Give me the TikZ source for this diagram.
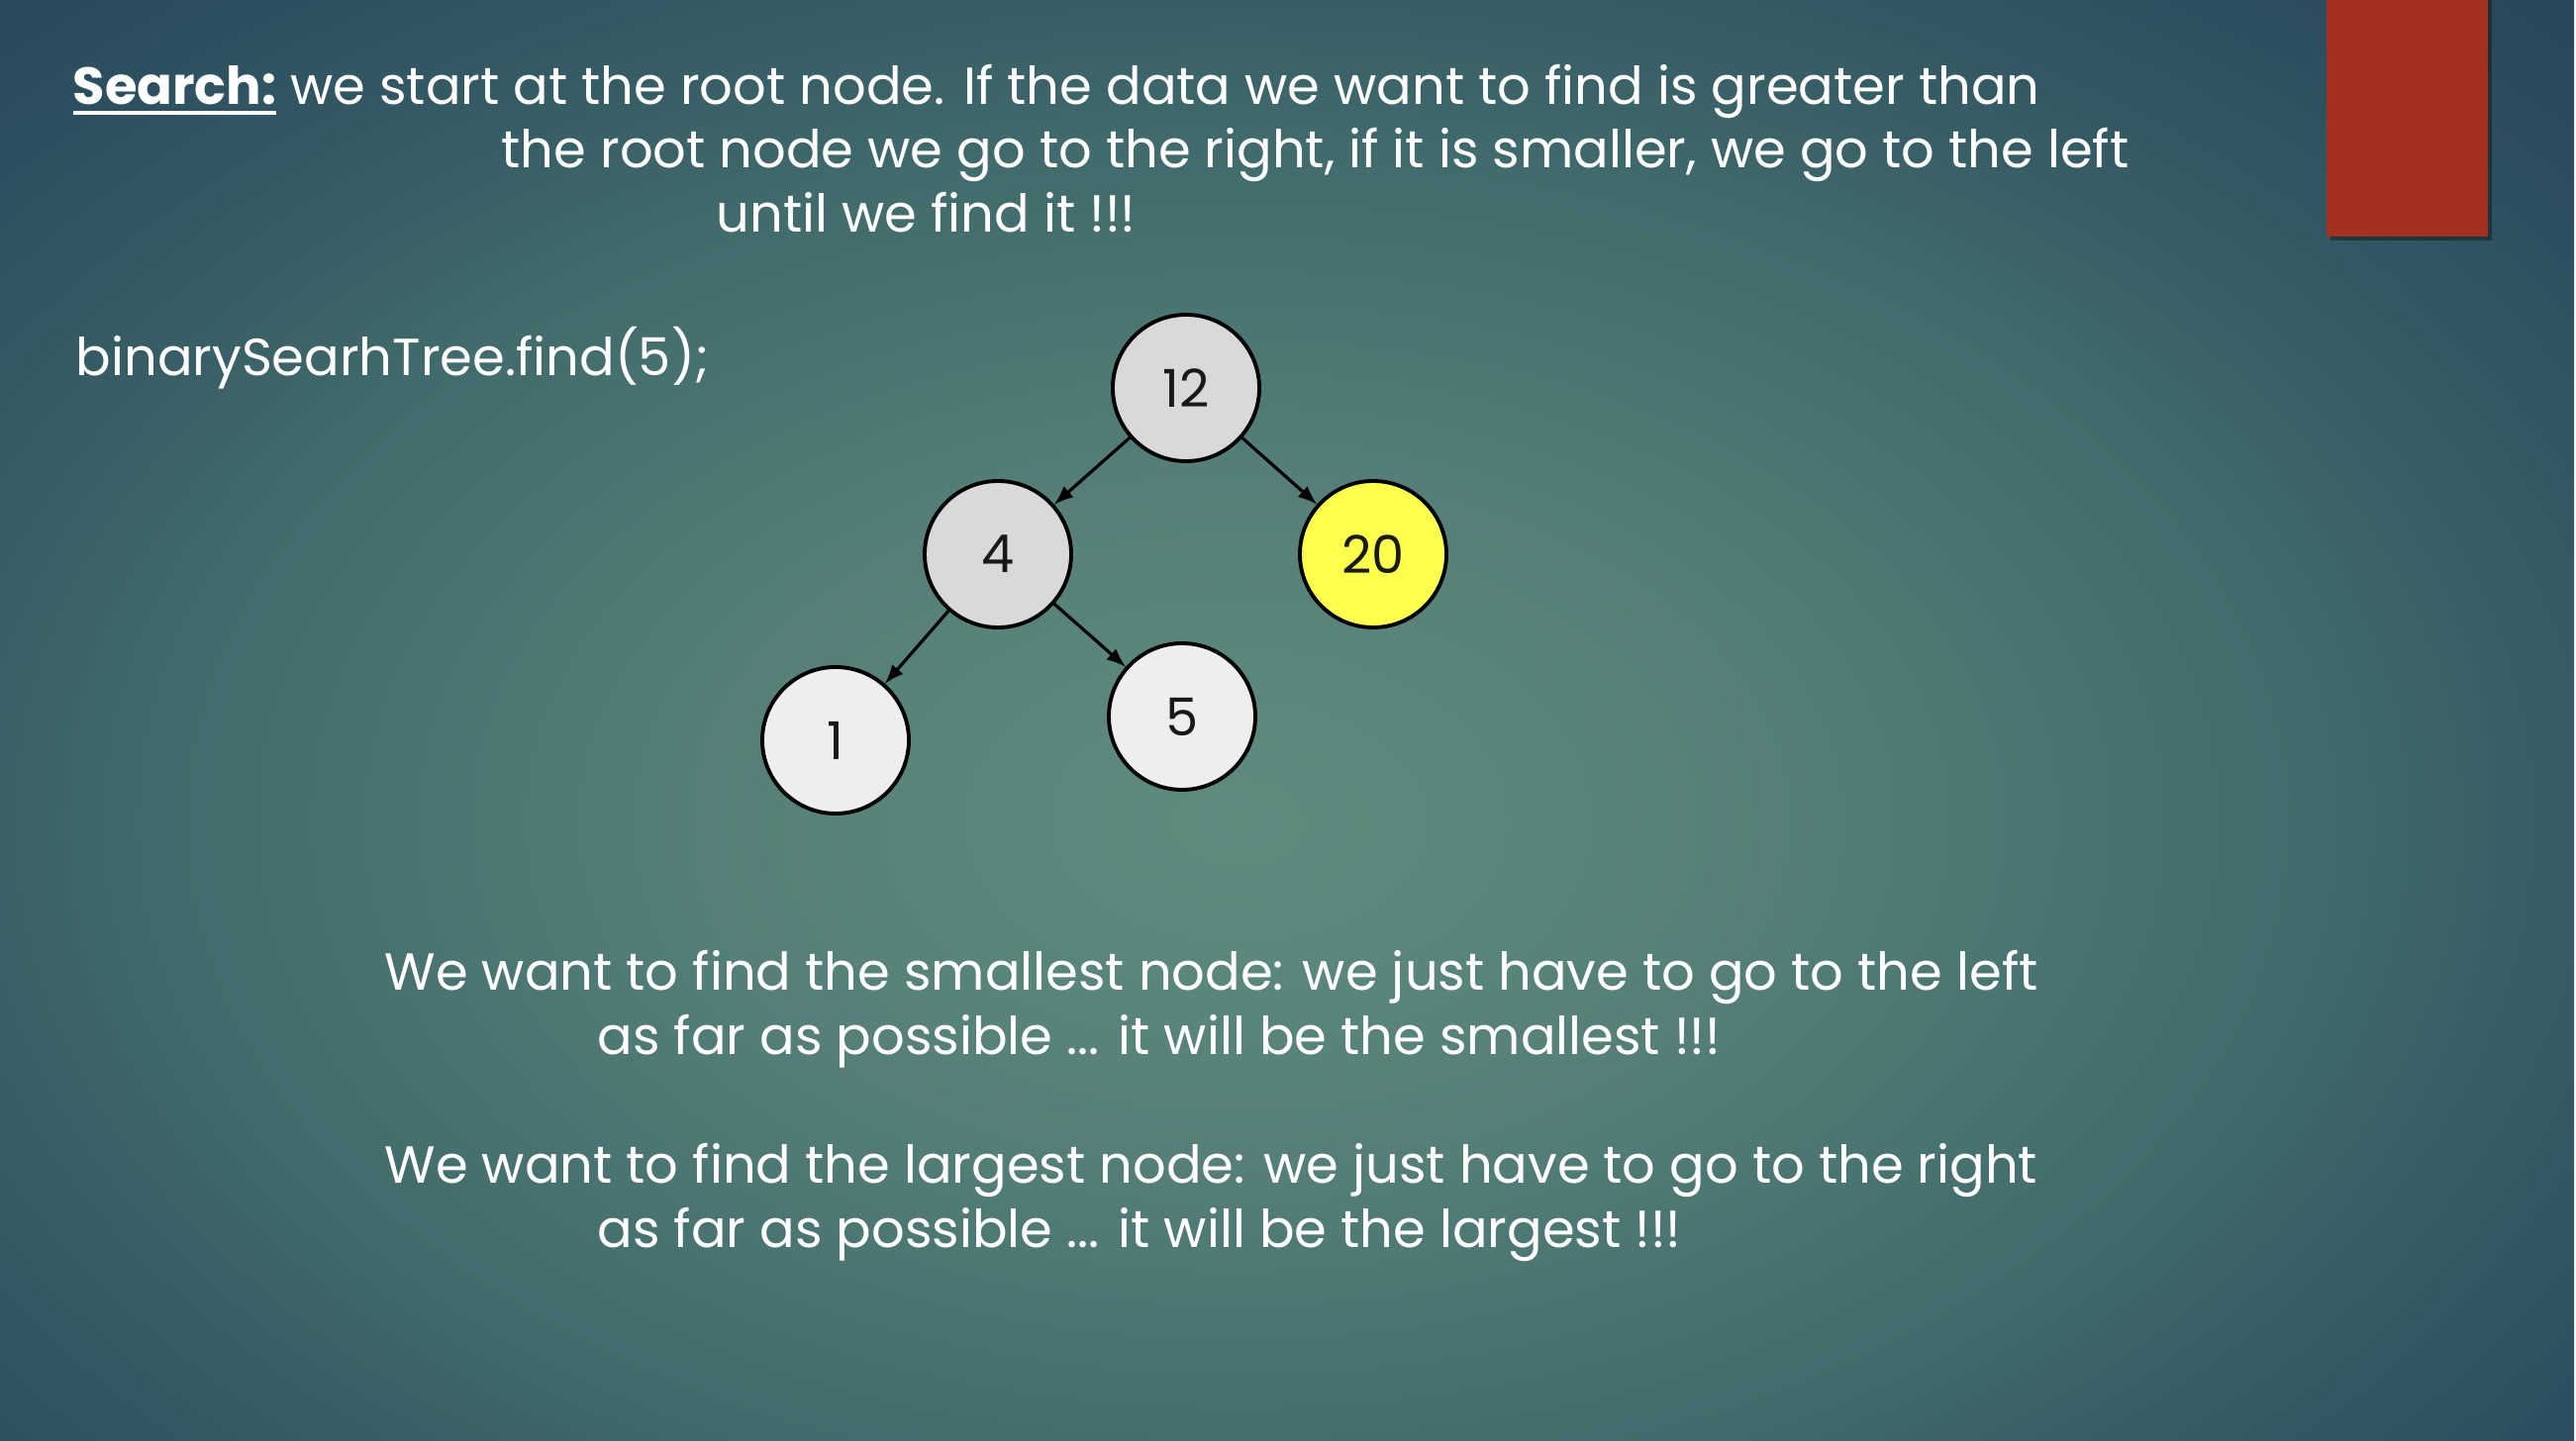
\documentclass[tikz,border=0pt]{standalone}
\usepackage{fontspec}
\setmainfont{Poppins}
\usepackage{tikz}
\usetikzlibrary{arrows}
\usetikzlibrary{positioning}
\usetikzlibrary{calc}

\definecolor{bgcentre}{HTML}{5F8C7F}
\definecolor{bgmid}{HTML}{557F78}
\definecolor{bgside}{HTML}{416B6C}
\definecolor{bgouter}{HTML}{365C64}
\definecolor{bgdark}{HTML}{2D5060}
\definecolor{bgedge}{HTML}{27465A}
\definecolor{barred}{HTML}{A5301F}
\definecolor{innergray}{HTML}{D9D9D9}
\definecolor{leafgray}{HTML}{EEEEEE}
\definecolor{hityellow}{HTML}{FFFF4D}

\pgfdeclareradialshading{slidebg}{\pgfpoint{0bp}{0bp}}{color(0bp)=(bgcentre); color(10bp)=(bgmid); color(20bp)=(bgside); color(25bp)=(bgouter); color(30bp)=(bgdark); color(35bp)=(bgedge); color(50bp)=(bgedge)}

\newcommand{\slideul}[1]{\setbox0\hbox{#1}\rlap{\rule[-2.8pt]{\wd0}{1.1pt}}\box0\relax}

\begin{document}
\begin{tikzpicture}[
        treenode/.style={circle, draw=black, line width=1.1pt, minimum size=1.48cm, inner sep=0pt, text=black!90, font=\fontsize{15}{18}\selectfont},
        slidetext/.style={anchor=base west, inner sep=0pt, text=white, font=\fontsize{15}{18}\selectfont},
        >=latex
    ]
        % slide background
        \useasboundingbox (0,0) rectangle (26.02,-14.56);
        \begin{scope}
            \clip (0,0) rectangle (26.02,-14.56);
            \shade[shading=slidebg] (-1,0.2) rectangle (26,-16.8);
        \end{scope}
        \fill[black, opacity=0.35] (23.54,0) rectangle (25.17,-2.43);
        \fill[barred] (23.50,0) rectangle (25.13,-2.39);

        % text
        \node[slidetext] (line1) at (0.73,-1.06) {\slideul{\bfseries Search:} we start at the root node. If the data we want to find is greater than};
        \node[slidetext] (line2) at (5.06,-1.70) {the root node we go to the right, if it is smaller, we go to the left};
        \node[slidetext] (line3) at (7.23,-2.35) {until we find it !!!};
        \node[slidetext] (call) at (0.76,-3.80) {binarySearhTree.find(5);};

        % tree
        \node[treenode, fill=innergray] (n12) at (11.98,-3.92) {12};
        \node[treenode, fill=innergray, on grid, below left = 1.68cm and 1.90cm of n12] (n4) {4};
        \node[treenode, fill=hityellow, on grid, below right = 1.68cm and 1.89cm of n12] (n20) {20};
        \node[treenode, fill=leafgray, on grid, below left = 1.88cm and 1.64cm of n4] (n1) {1};
        \node[treenode, fill=leafgray, on grid, below right = 1.64cm and 1.86cm of n4] (n5) {5};
        \draw [->, line width=0.9pt] (n12) -- (n4);
        \draw [->, line width=0.9pt] (n12) -- (n20);
        \draw [->, line width=0.9pt] (n4) -- (n1);
        \draw [->, line width=0.9pt] (n4) -- (n5);

        % smallest / largest
        \node[slidetext] (small1) at (3.88,-10.00) {We want to find the smallest node: we just have to go to the left};
        \node[slidetext] (small2) at (6.03,-10.65) {as far as possible ... it will be the smallest !!!};
        \node[slidetext] (large1) at (3.88,-11.95) {We want to find the largest node: we just have to go to the right};
        \node[slidetext] (large2) at (6.03,-12.60) {as far as possible ... it will be the largest !!!};
    \end{tikzpicture}
\end{document}
